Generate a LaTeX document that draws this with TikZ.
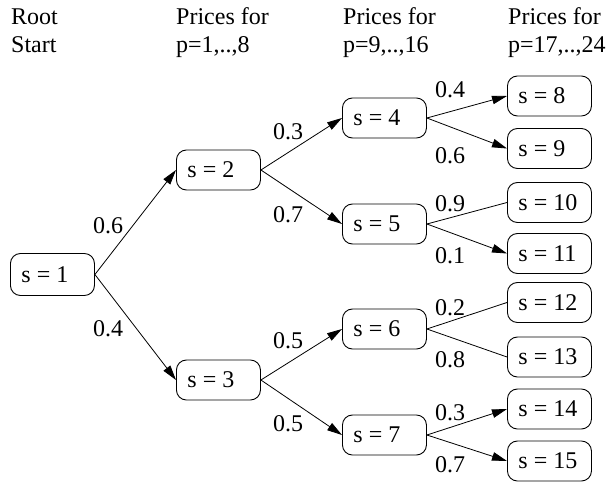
\documentclass[tikz,border=0pt]{standalone}
\usepackage{fontspec}
\setmainfont{Liberation Serif}
\usetikzlibrary{arrows.meta}
\newcommand{\stxt}[1]{\makebox[62bp][l]{#1}}
\begin{document}
\begin{tikzpicture}[x=1bp,y=-1bp,
  every node/.style={font=\fontsize{24bp}{28bp}\selectfont},
  state/.style={draw,rounded corners=10bp,line width=0.9bp,
    minimum height=40bp,inner xsep=11bp,anchor=west},
  lbl/.style={anchor=base,inner sep=0pt},
  hdr/.style={anchor=base west,inner sep=0pt},
  arr/.style={line width=0.8bp,-{Triangle[length=15bp,width=8.5bp]}},
  ln/.style={line width=0.8bp}]
\useasboundingbox (0,0) rectangle (610,483);
% headers
\node[hdr] (h1a) at (11,25) {Root};
\node[hdr] (h1b) at (11,53) {Start};
\node[hdr] (h2a) at (176,25) {Prices for};
\node[hdr] (h2b) at (176,53) {p=1,..,8};
\node[hdr] (h3a) at (343,25) {Prices for};
\node[hdr] (h3b) at (343,53) {p=9,..,16};
\node[hdr] (h4a) at (508,25) {Prices for};
\node[hdr] (h4b) at (508,53) {p=17,..,24};
% nodes
\node[state,minimum height=42bp] (s1) at (10,274.5) {\stxt{s = 1}};
\node[state] (s2) at (176,170) {\stxt{s = 2}};
\node[state] (s3) at (176,380) {\stxt{s = 3}};
\node[state] (s4) at (342,118) {\stxt{s = 4}};
\node[state] (s5) at (342,224) {\stxt{s = 5}};
\node[state] (s6) at (342,329) {\stxt{s = 6}};
\node[state] (s7) at (342,435) {\stxt{s = 7}};
\node[state] (s8) at (507,96) {\stxt{s = 8}};
\node[state] (s9) at (507,148.5) {\stxt{s = 9}};
\node[state] (s10) at (507,202.5) {\stxt{s = 10}};
\node[state] (s11) at (507,253.5) {\stxt{s = 11}};
\node[state] (s12) at (507,302.5) {\stxt{s = 12}};
\node[state] (s13) at (507,357) {\stxt{s = 13}};
\node[state] (s14) at (507,409) {\stxt{s = 14}};
\node[state] (s15) at (507,461) {\stxt{s = 15}};
% connectors
\draw[arr] (s1.east) -- (s2.west);
\draw[arr] (s1.east) -- (s3.west);
\draw[arr] (s2.east) -- (s4.west);
\draw[arr] (s2.east) -- (s5.west);
\draw[arr] (s3.east) -- (s6.west);
\draw[arr] (s3.east) -- (s7.west);
\draw[arr] (s4.east) -- (s8.west);
\draw[arr] (s4.east) -- (s9.west);
\draw[ln] (s5.east) -- (s10.west);
\draw[arr] (s5.east) -- (s11.west);
\draw[ln] (s6.east) -- (s12.west);
\draw[ln] (s6.east) -- (s13.west);
\draw[arr] (s7.east) -- (s14.west);
\draw[arr] (s7.east) -- (s15.west);
% labels
\node[lbl] (l12) at (108,234) {0.6};
\node[lbl] (l13) at (108,336) {0.4};
\node[lbl] (l24) at (288,140) {0.3};
\node[lbl] (l25) at (288,223) {0.7};
\node[lbl] (l36) at (288,348) {0.5};
\node[lbl] (l37) at (288,431) {0.5};
\node[lbl] (l48) at (450,98) {0.4};
\node[lbl] (l49) at (450,164) {0.6};
\node[lbl] (l510) at (450,212) {0.9};
\node[lbl] (l511) at (450,263) {0.1};
\node[lbl] (l612) at (450,315) {0.2};
\node[lbl] (l613) at (450,367) {0.8};
\node[lbl] (l714) at (450,420) {0.3};
\node[lbl] (l715) at (450,472) {0.7};
\end{tikzpicture}
\end{document}
